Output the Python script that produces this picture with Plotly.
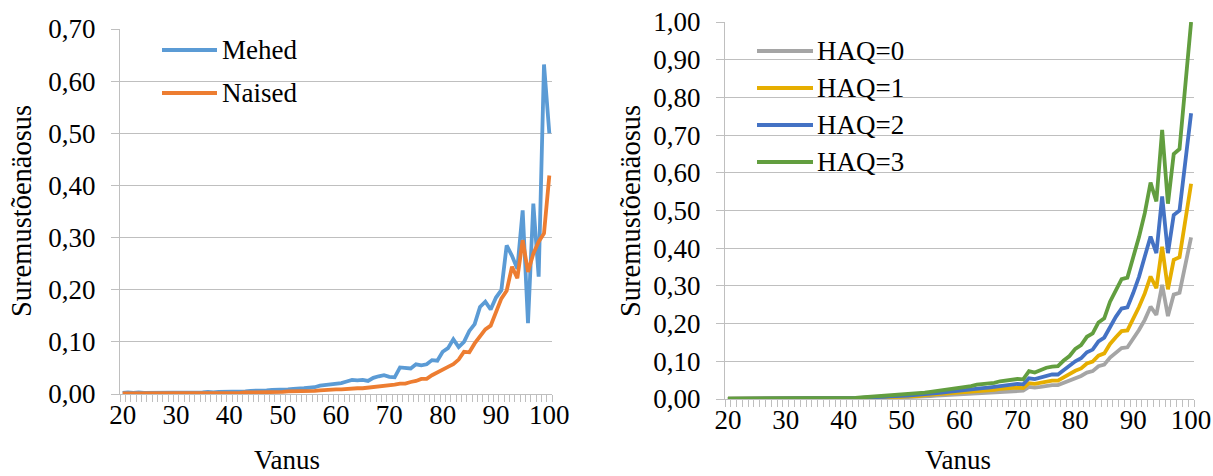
import plotly.graph_objects as go

ages = list(range(20, 101))

mehed = [0.002, 0.003, 0.002, 0.003, 0.002, 0.002, 0.002, 0.002, 0.003, 0.003,
         0.003, 0.003, 0.003, 0.003, 0.003, 0.003, 0.004, 0.003, 0.004, 0.004,
         0.004, 0.004, 0.004, 0.005, 0.006, 0.006, 0.007, 0.007, 0.008, 0.008,
         0.009, 0.009, 0.010, 0.010, 0.011, 0.012, 0.013, 0.016, 0.017, 0.018,
         0.019, 0.021, 0.024, 0.027, 0.026, 0.027, 0.025, 0.031, 0.034, 0.036,
         0.033, 0.032, 0.051, 0.050, 0.049, 0.057, 0.055, 0.057, 0.065, 0.064,
         0.081, 0.088, 0.105, 0.090, 0.100, 0.121, 0.134, 0.167, 0.177, 0.162,
         0.185, 0.199, 0.285, 0.265, 0.240, 0.352, 0.136, 0.365, 0.225, 0.632, 0.500]

naised = [0.001, 0.001, 0.001, 0.001, 0.001, 0.001, 0.001, 0.001, 0.001, 0.001,
          0.001, 0.001, 0.001, 0.001, 0.001, 0.002, 0.002, 0.002, 0.002, 0.002,
          0.002, 0.002, 0.002, 0.003, 0.003, 0.003, 0.003, 0.004, 0.004, 0.004,
          0.004, 0.005, 0.005, 0.005, 0.005, 0.006, 0.006, 0.007, 0.008, 0.008,
          0.009, 0.009, 0.010, 0.010, 0.011, 0.011, 0.012, 0.013, 0.014, 0.015,
          0.017, 0.018, 0.020, 0.020, 0.023, 0.025, 0.029, 0.029, 0.036, 0.042,
          0.047, 0.052, 0.057, 0.066, 0.081, 0.080, 0.097, 0.111, 0.124, 0.131,
          0.157, 0.183, 0.198, 0.244, 0.222, 0.295, 0.234, 0.269, 0.292, 0.308, 0.419]

haq0 = [0.000, 0.000, 0.000, 0.000, 0.000, 0.000, 0.000, 0.001, 0.001, 0.001,
        0.001, 0.001, 0.001, 0.001, 0.001, 0.001, 0.001, 0.001, 0.001, 0.001,
        0.001, 0.001, 0.001, 0.002, 0.002, 0.002, 0.003, 0.003, 0.004, 0.004,
        0.005, 0.005, 0.006, 0.006, 0.007, 0.008, 0.009, 0.010, 0.011, 0.012,
        0.013, 0.013, 0.015, 0.016, 0.017, 0.017, 0.018, 0.020, 0.021, 0.022,
        0.023, 0.022, 0.032, 0.030, 0.032, 0.035, 0.037, 0.037, 0.043, 0.049,
        0.057, 0.061, 0.070, 0.074, 0.087, 0.091, 0.110, 0.123, 0.135, 0.137,
        0.159, 0.183, 0.210, 0.245, 0.223, 0.303, 0.220, 0.277, 0.282, 0.356, 0.429]

haq1 = [0.001, 0.001, 0.001, 0.001, 0.001, 0.001, 0.001, 0.001, 0.001, 0.001,
        0.001, 0.001, 0.001, 0.001, 0.001, 0.001, 0.001, 0.002, 0.002, 0.002,
        0.002, 0.002, 0.002, 0.002, 0.003, 0.003, 0.004, 0.004, 0.005, 0.005,
        0.006, 0.007, 0.007, 0.008, 0.010, 0.011, 0.012, 0.013, 0.015, 0.016,
        0.017, 0.018, 0.019, 0.021, 0.022, 0.023, 0.024, 0.027, 0.028, 0.030,
        0.030, 0.029, 0.042, 0.040, 0.043, 0.047, 0.049, 0.049, 0.058, 0.065,
        0.075, 0.081, 0.094, 0.099, 0.115, 0.121, 0.146, 0.164, 0.180, 0.182,
        0.211, 0.244, 0.280, 0.325, 0.294, 0.404, 0.291, 0.369, 0.376, 0.473, 0.571]

haq2 = [0.001, 0.001, 0.001, 0.001, 0.001, 0.001, 0.001, 0.001, 0.001, 0.001,
        0.001, 0.001, 0.001, 0.001, 0.002, 0.002, 0.002, 0.002, 0.002, 0.002,
        0.002, 0.002, 0.002, 0.003, 0.004, 0.004, 0.005, 0.006, 0.007, 0.007,
        0.008, 0.009, 0.010, 0.011, 0.013, 0.014, 0.016, 0.017, 0.019, 0.021,
        0.022, 0.023, 0.026, 0.028, 0.029, 0.030, 0.032, 0.035, 0.037, 0.039,
        0.040, 0.039, 0.055, 0.053, 0.057, 0.062, 0.065, 0.065, 0.077, 0.086,
        0.100, 0.108, 0.124, 0.131, 0.153, 0.163, 0.192, 0.218, 0.240, 0.243,
        0.281, 0.324, 0.378, 0.431, 0.387, 0.537, 0.387, 0.488, 0.500, 0.629, 0.758]

haq3 = [0.001, 0.001, 0.001, 0.001, 0.001, 0.001, 0.001, 0.002, 0.002, 0.002,
        0.002, 0.002, 0.002, 0.002, 0.002, 0.002, 0.002, 0.003, 0.003, 0.003,
        0.003, 0.003, 0.003, 0.004, 0.005, 0.006, 0.007, 0.008, 0.009, 0.010,
        0.011, 0.012, 0.013, 0.015, 0.017, 0.019, 0.021, 0.023, 0.026, 0.028,
        0.030, 0.031, 0.034, 0.038, 0.039, 0.040, 0.043, 0.047, 0.049, 0.052,
        0.053, 0.052, 0.074, 0.070, 0.076, 0.083, 0.086, 0.087, 0.102, 0.114,
        0.133, 0.143, 0.165, 0.174, 0.203, 0.214, 0.258, 0.289, 0.318, 0.322,
        0.373, 0.430, 0.493, 0.574, 0.524, 0.714, 0.518, 0.650, 0.663, 0.833, 1.000]

left_series = [("Mehed", mehed, "#5B9BD5"), ("Naised", naised, "#ED7D31")]
right_series = [("HAQ=0", haq0, "#A5A5A5"), ("HAQ=1", haq1, "#E6AE00"),
                ("HAQ=2", haq2, "#4472C4"), ("HAQ=3", haq3, "#629E3F")]

x_ticks = [20, 30, 40, 50, 60, 70, 80, 90, 100]
x_title = "Vanus"
y_title = "Suremustõenäosus"

W, H = 1213, 476
FONT = "Times New Roman, Liberation Serif, DejaVu Serif, serif"
GRID = "#BFBFBF"

def px_x(v):
    return v / W

def px_y(v):
    return 1 - v / H

fig = go.Figure()
for name, vals, col in left_series:
    fig.add_trace(go.Scatter(x=ages, y=vals, name=name, mode="lines",
                             line=dict(color=col, width=3.8),
                             xaxis="x", yaxis="y", showlegend=False))
for name, vals, col in right_series:
    fig.add_trace(go.Scatter(x=ages, y=vals, name=name, mode="lines",
                             line=dict(color=col, width=3.8),
                             xaxis="x2", yaxis="y2", showlegend=False))

def xaxis_def(domain, anchor):
    return dict(domain=domain, anchor=anchor, range=[19.5, 100.5], automargin=False,
                tickvals=x_ticks, ticktext=[str(t) for t in x_ticks],
                ticks="", showgrid=False, zeroline=False,
                showline=True, linecolor=GRID, linewidth=1.3,
                tickfont=dict(family=FONT, size=27, color="black"),
                ticklabelstandoff=-4,
                minor=dict(ticks="outside", ticklen=7, tickcolor=GRID, tickwidth=1.2,
                           tick0=19.5, dtick=1, showgrid=False))

def yaxis_def(domain, anchor, top, dtick):
    n = int(round(top / dtick))
    vals = [round(i * dtick, 2) for i in range(n + 1)]
    return dict(domain=domain, anchor=anchor, range=[0, top], automargin=False,
                tickvals=vals, ticktext=[f"{v:.2f}".replace(".", ",") for v in vals],
                ticks="outside", ticklen=8, tickcolor=GRID, tickwidth=1.3,
                showgrid=True, gridcolor=GRID, gridwidth=1.3, zeroline=False,
                showline=True, linecolor=GRID, linewidth=1.3,
                tickfont=dict(family=FONT, size=27, color="black"),
                ticklabelstandoff=10)

fig.update_layout(
    width=W, height=H,
    font=dict(family=FONT, size=27, color="black"),
    margin=dict(l=0, r=0, t=0, b=0, autoexpand=False),
    paper_bgcolor="white", plot_bgcolor="white",
    showlegend=False,
    xaxis=xaxis_def([px_x(120), px_x(552)], "y"),
    yaxis=yaxis_def([82 / H, 447 / H], "x", 0.70, 0.10),
    xaxis2=xaxis_def([px_x(725), px_x(1194)], "y2"),
    yaxis2=yaxis_def([77 / H, 454 / H], "x2", 1.00, 0.10),
)

annotations = []
shapes = []

# axis titles
for xc in (21, 630):
    annotations.append(dict(text=y_title, x=px_x(xc), y=px_y(211), xref="paper", yref="paper",
                            showarrow=False, textangle=-90, xanchor="center", yanchor="middle",
                            font=dict(family=FONT, size=28.5, color="black")))
for xc in (287, 958):
    annotations.append(dict(text=x_title, x=px_x(xc), y=px_y(460), xref="paper", yref="paper",
                            showarrow=False, xanchor="center", yanchor="middle",
                            font=dict(family=FONT, size=27, color="black")))

# legends
def add_legend(series, x0, x1, ys, xt):
    for (name, _, col), yy in zip(series, ys):
        shapes.append(dict(type="line", xref="paper", yref="paper",
                           x0=px_x(x0), x1=px_x(x1), y0=px_y(yy), y1=px_y(yy),
                           line=dict(color=col, width=4)))
        annotations.append(dict(text=name, x=px_x(xt), y=px_y(yy), xref="paper", yref="paper",
                                showarrow=False, xanchor="left", yanchor="middle",
                                font=dict(family=FONT, size=27, color="black")))

add_legend(left_series, 162, 217, [50, 93], 220)
add_legend(right_series, 757, 813, [51, 88, 125, 162], 815)

fig.update_layout(annotations=annotations, shapes=shapes)

fig.write_html("out.html")
